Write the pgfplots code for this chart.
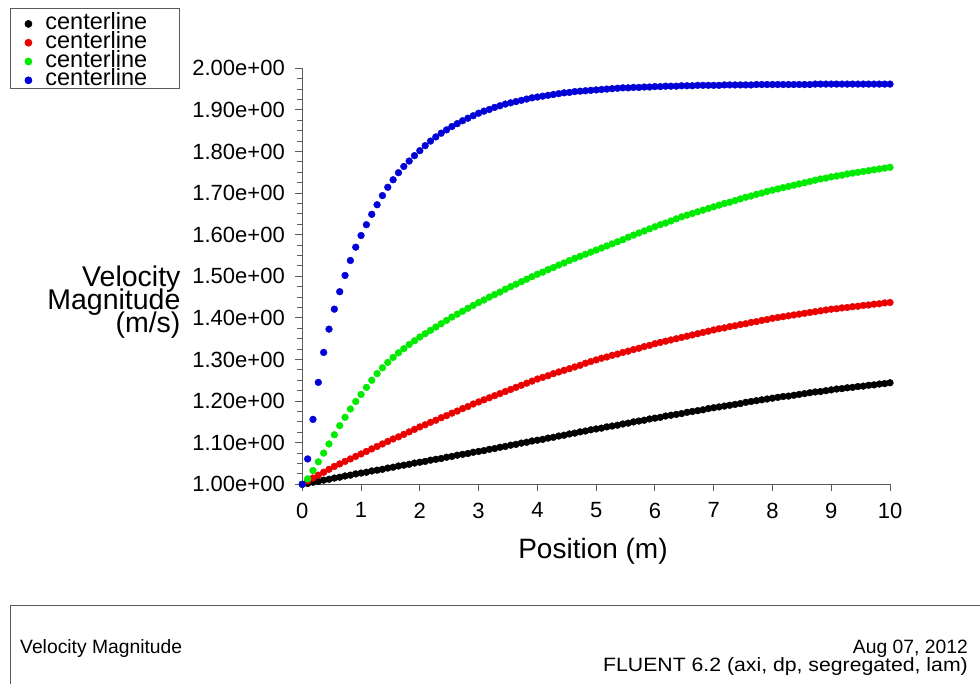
\documentclass[border=0pt]{standalone}
\usepackage{graphicx}
\usepackage{pgfplots}
\pgfplotsset{compat=1.18}
\usepackage{pgfplotstable}
\usepackage{fontspec}
\setmainfont{Liberation Sans}
\definecolor{fblack}{RGB}{0,0,0}
\definecolor{fred}{RGB}{235,0,0}
\definecolor{fgreen}{RGB}{0,235,0}
\definecolor{fblue}{RGB}{0,0,215}
\definecolor{frame}{RGB}{90,90,90}
\newcommand{\ticfont}{\fontsize{22}{24}\selectfont}
\newcommand{\legfont}{\fontsize{23.5}{19}\selectfont}
\newcommand{\labfont}{\fontsize{28.5}{23}\selectfont\lineskiplimit=-50pt}
\newcommand{\xlabfont}{\fontsize{28}{30}\selectfont}
\newcommand{\boxfont}{\fontsize{19.3}{21}\selectfont}

% centerline velocity magnitude, four cases (x in m)
\pgfplotstableread{
x black red green blue
0.0000 1.000 1.000 1.000 1.000
0.0909 1.002 1.008 1.013 1.061
0.1818 1.005 1.015 1.033 1.156
0.2727 1.007 1.022 1.054 1.245
0.3636 1.010 1.029 1.075 1.317
0.4545 1.012 1.036 1.097 1.373
0.5455 1.015 1.043 1.119 1.421
0.6364 1.017 1.049 1.141 1.463
0.7273 1.020 1.055 1.161 1.502
0.8182 1.022 1.061 1.181 1.538
0.9091 1.025 1.067 1.199 1.570
1.0000 1.027 1.073 1.216 1.598
1.0909 1.029 1.079 1.233 1.624
1.1818 1.032 1.085 1.250 1.649
1.2727 1.034 1.091 1.266 1.672
1.3636 1.036 1.097 1.280 1.694
1.4545 1.039 1.103 1.293 1.714
1.5455 1.041 1.109 1.305 1.732
1.6364 1.044 1.114 1.316 1.749
1.7273 1.046 1.120 1.326 1.764
1.8182 1.048 1.126 1.336 1.777
1.9091 1.051 1.132 1.345 1.790
2.0000 1.053 1.138 1.354 1.802
2.0909 1.055 1.143 1.362 1.814
2.1818 1.058 1.149 1.370 1.825
2.2727 1.060 1.154 1.378 1.835
2.3636 1.062 1.160 1.386 1.844
2.4545 1.065 1.165 1.394 1.852
2.5455 1.067 1.171 1.402 1.860
2.6364 1.070 1.176 1.409 1.867
2.7273 1.072 1.182 1.416 1.874
2.8182 1.074 1.187 1.423 1.880
2.9091 1.077 1.193 1.430 1.886
3.0000 1.079 1.198 1.437 1.892
3.0909 1.081 1.203 1.443 1.897
3.1818 1.084 1.208 1.450 1.901
3.2727 1.086 1.213 1.456 1.906
3.3636 1.089 1.218 1.462 1.910
3.4545 1.091 1.223 1.469 1.914
3.5455 1.094 1.228 1.475 1.917
3.6364 1.096 1.233 1.481 1.920
3.7273 1.099 1.238 1.487 1.923
3.8182 1.101 1.243 1.493 1.926
3.9091 1.104 1.248 1.499 1.929
4.0000 1.106 1.253 1.505 1.931
4.0909 1.108 1.257 1.510 1.933
4.1818 1.111 1.261 1.516 1.935
4.2727 1.113 1.266 1.521 1.937
4.3636 1.116 1.270 1.527 1.939
4.4545 1.118 1.274 1.532 1.941
4.5455 1.121 1.278 1.538 1.942
4.6364 1.123 1.282 1.543 1.944
4.7273 1.126 1.286 1.548 1.945
4.8182 1.128 1.291 1.553 1.946
4.9091 1.131 1.295 1.558 1.947
5.0000 1.133 1.299 1.563 1.948
5.0909 1.135 1.303 1.568 1.949
5.1818 1.138 1.306 1.573 1.950
5.2727 1.140 1.310 1.578 1.951
5.3636 1.142 1.313 1.583 1.952
5.4545 1.145 1.317 1.588 1.953
5.5455 1.147 1.320 1.594 1.953
5.6364 1.150 1.324 1.599 1.954
5.7273 1.152 1.327 1.604 1.954
5.8182 1.154 1.331 1.609 1.955
5.9091 1.157 1.334 1.614 1.955
6.0000 1.159 1.338 1.619 1.956
6.0909 1.161 1.341 1.624 1.956
6.1818 1.164 1.344 1.628 1.957
6.2727 1.166 1.347 1.633 1.957
6.3636 1.168 1.350 1.638 1.957
6.4545 1.170 1.353 1.643 1.958
6.5455 1.173 1.356 1.647 1.958
6.6364 1.175 1.359 1.651 1.958
6.7273 1.177 1.362 1.655 1.959
6.8182 1.179 1.365 1.659 1.959
6.9091 1.182 1.368 1.663 1.959
7.0000 1.184 1.371 1.667 1.959
7.0909 1.186 1.374 1.671 1.959
7.1818 1.188 1.376 1.675 1.960
7.2727 1.190 1.379 1.678 1.960
7.3636 1.192 1.381 1.682 1.960
7.4545 1.194 1.384 1.686 1.960
7.5455 1.197 1.386 1.690 1.960
7.6364 1.199 1.389 1.693 1.960
7.7273 1.201 1.391 1.697 1.961
7.8182 1.203 1.394 1.700 1.961
7.9091 1.205 1.396 1.704 1.961
8.0000 1.207 1.399 1.707 1.961
8.0909 1.209 1.401 1.710 1.961
8.1818 1.211 1.403 1.713 1.961
8.2727 1.212 1.405 1.716 1.961
8.3636 1.214 1.407 1.719 1.961
8.4545 1.216 1.409 1.722 1.961
8.5455 1.218 1.411 1.725 1.961
8.6364 1.220 1.413 1.728 1.961
8.7273 1.222 1.415 1.731 1.962
8.8182 1.223 1.417 1.734 1.962
8.9091 1.225 1.419 1.736 1.962
9.0000 1.227 1.421 1.739 1.962
9.0909 1.229 1.422 1.741 1.962
9.1818 1.230 1.424 1.743 1.962
9.2727 1.232 1.425 1.746 1.962
9.3636 1.233 1.427 1.748 1.962
9.4545 1.235 1.428 1.750 1.962
9.5455 1.236 1.430 1.752 1.962
9.6364 1.238 1.431 1.754 1.962
9.7273 1.239 1.433 1.756 1.962
9.8182 1.241 1.434 1.758 1.962
9.9091 1.242 1.436 1.760 1.962
10.0000 1.244 1.437 1.762 1.962
}\vmag

\begin{document}
\begin{tikzpicture}[x=1pt,y=1pt]
\useasboundingbox (0,0) rectangle (980,684);
\begin{axis}[
  at={(302.3pt,199.7pt)}, anchor=south west,
  scale only axis, width=587.7pt, height=416pt,
  xmin=0, xmax=10, ymin=1, ymax=2,
  clip=false,
  axis x line*=bottom, axis y line*=left,
  axis line style={frame, line width=0.9pt},
  tick align=outside,
  every tick/.style={frame, line width=0.9pt},
  major tick length=7pt, minor tick length=5pt,
  xtick={0,1,2,3,4,5,6,7,8,9,10},
  ytick={1,1.1,1.2,1.3,1.4,1.5,1.6,1.7,1.8,1.9,2},
  yticklabels={1.00e+00,1.10e+00,1.20e+00,1.30e+00,1.40e+00,1.50e+00,
    1.60e+00,1.70e+00,1.80e+00,1.90e+00,2.00e+00},
  minor y tick num=3,
  /pgf/number format/assume math mode=true,
  tick label style={font=\ticfont},
  yticklabel style={xshift=-7pt},
  xticklabel style={yshift=-8pt},
  xlabel={Position (m)},
  xlabel style={font=\xlabfont, at={(axis description cs:0.4946,-0.1603)}, anchor=center},
  ylabel={Velocity\\Magnitude\\(m/s)},
  ylabel style={font=\labfont, rotate=-90, align=right, anchor=east,
    at={(axis description cs:-0.2013,0.437)}},
  legend style={at={(-0.4974,1.1450)}, anchor=north west, draw=frame,
    line width=0.9pt, fill=white, inner xsep=9.5pt, inner ysep=2.2pt,
    row sep=0pt, column sep=0pt, font=\legfont,
    nodes={inner sep=0pt, text height=18.8pt, text depth=0pt, anchor=base west}},
  legend cell align=left,
  legend image code/.code={\path[draw=none,fill=none] (0pt,0pt) rectangle (25.5pt,1pt);
    \draw[#1] plot coordinates {(8.5pt,5.5pt)};},
  every axis plot/.append style={only marks, mark=*, mark size=3.4pt},
]
\addplot[fblack] table[x=x, y=black] {\vmag};
\addlegendentry{centerline\rule{23pt}{0pt}}
\addplot[fred] table[x=x, y=red] {\vmag};
\addlegendentry{centerline\rule{23pt}{0pt}}
\addplot[fgreen] table[x=x, y=green] {\vmag};
\addlegendentry{centerline\rule{23pt}{0pt}}
\addplot[fblue] table[x=x, y=blue] {\vmag};
\addlegendentry{centerline\rule{23pt}{0pt}}
\end{axis}
% info box at the bottom
\draw[frame, line width=0.9pt] (10,-5) -- (10,79) -- (985,79);
\node[anchor=base west, font=\boxfont, inner sep=0pt] at (20,30) {Velocity Magnitude};
\node[anchor=base east, font=\boxfont, inner sep=0pt] at (968,30) {Aug 07, 2012};
\node[anchor=base east, font=\boxfont, inner sep=0pt] at (968,12)
  {\scalebox{1.1}[1]{FLUENT 6.2 (axi, dp, segregated, lam)}};
\end{tikzpicture}
\end{document}
